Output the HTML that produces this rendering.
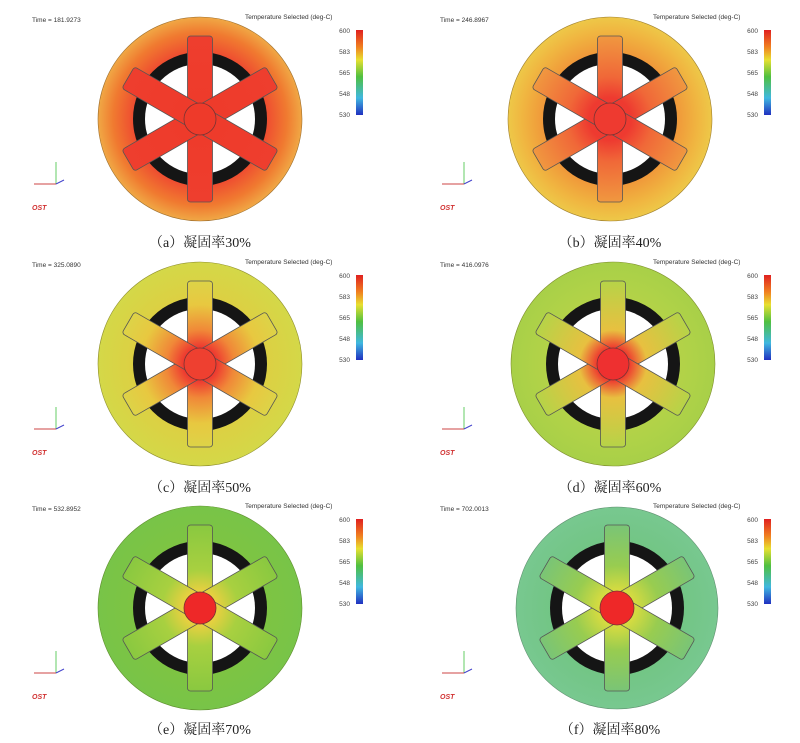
<!DOCTYPE html>
<html><head><meta charset="utf-8"><style>
body{margin:0;background:#fff;width:800px;height:743px;overflow:hidden;position:relative;font-family:"Liberation Sans",sans-serif}
.cap{position:absolute;font-family:"Liberation Serif","Noto Serif CJK SC",serif;font-size:14px;color:#222;width:300px;text-align:center}
svg{position:absolute;left:0;top:0}
</style></head><body>
<svg width="800" height="743" viewBox="0 0 800 743" font-family="Liberation Sans, sans-serif">
<defs>
<linearGradient id="cb" x1="0" y1="0" x2="0" y2="1">
<stop offset="0" stop-color="#e02020"/><stop offset="0.2" stop-color="#f08020"/><stop offset="0.35" stop-color="#e8e030"/><stop offset="0.55" stop-color="#50c040"/><stop offset="0.8" stop-color="#40b8e0"/><stop offset="1" stop-color="#2030c0"/></linearGradient>
<radialGradient id="wa" gradientUnits="userSpaceOnUse" cx="0" cy="0" r="102"><stop offset="0.6" stop-color="#ee4030"/><stop offset="0.85" stop-color="#f07a30"/><stop offset="1" stop-color="#f0a845"/></radialGradient>
<radialGradient id="sa" gradientUnits="userSpaceOnUse" cx="0" cy="0" r="85"><stop offset="0" stop-color="#ee3a2a"/><stop offset="1" stop-color="#ee3e2e"/></radialGradient>
<radialGradient id="wb" gradientUnits="userSpaceOnUse" cx="0" cy="0" r="102"><stop offset="0.6" stop-color="#f09038"/><stop offset="0.85" stop-color="#f0b440"/><stop offset="1" stop-color="#eec848"/></radialGradient>
<radialGradient id="sb" gradientUnits="userSpaceOnUse" cx="0" cy="0" r="85"><stop offset="0.25" stop-color="#ee3a30"/><stop offset="0.5" stop-color="#f06838"/><stop offset="1" stop-color="#f09a40"/></radialGradient>
<radialGradient id="wc" gradientUnits="userSpaceOnUse" cx="0" cy="0" r="102"><stop offset="0.5" stop-color="#e0cc40"/><stop offset="1" stop-color="#d4d848"/></radialGradient>
<radialGradient id="sc" gradientUnits="userSpaceOnUse" cx="0" cy="0" r="85"><stop offset="0.2" stop-color="#ee3a30"/><stop offset="0.4" stop-color="#f08838"/><stop offset="0.7" stop-color="#e8c840"/><stop offset="1" stop-color="#dcd448"/></radialGradient>
<radialGradient id="wd" gradientUnits="userSpaceOnUse" cx="0" cy="0" r="102"><stop offset="0.5" stop-color="#b8d448"/><stop offset="1" stop-color="#a8d048"/></radialGradient>
<radialGradient id="sd" gradientUnits="userSpaceOnUse" cx="0" cy="0" r="85"><stop offset="0.2" stop-color="#ee4030"/><stop offset="0.4" stop-color="#e8c040"/><stop offset="1" stop-color="#b4d448"/></radialGradient>
<radialGradient id="we" gradientUnits="userSpaceOnUse" cx="0" cy="0" r="102"><stop offset="0.5" stop-color="#80c440"/><stop offset="1" stop-color="#78c448"/></radialGradient>
<radialGradient id="se" gradientUnits="userSpaceOnUse" cx="0" cy="0" r="85"><stop offset="0.2" stop-color="#e8d040"/><stop offset="0.45" stop-color="#a8d040"/><stop offset="1" stop-color="#88c840"/></radialGradient>
<radialGradient id="wf" gradientUnits="userSpaceOnUse" cx="0" cy="0" r="102"><stop offset="0.5" stop-color="#70c480"/><stop offset="1" stop-color="#78c890"/></radialGradient>
<radialGradient id="sf" gradientUnits="userSpaceOnUse" cx="0" cy="0" r="85"><stop offset="0.2" stop-color="#d8dc40"/><stop offset="0.5" stop-color="#98cc50"/><stop offset="1" stop-color="#78c478"/></radialGradient>
<g id="sp" stroke="#555" stroke-width="0.8">
<rect x="-12.5" y="-83" width="25" height="166" rx="3"/>
<rect x="-12.5" y="-83" width="25" height="166" rx="3" transform="rotate(60)"/>
<rect x="-12.5" y="-83" width="25" height="166" rx="3" transform="rotate(120)"/>
</g>
<g id="ring"><circle r="67" fill="#151515"/><circle r="55" fill="#fff"/></g>
<g id="cbar">
<text x="245" y="19" font-size="6.5" fill="#333">Temperature Selected (deg-C)</text>
<rect x="356" y="30" width="7" height="85" fill="url(#cb)"/>
<g font-size="6.5" fill="#444" text-anchor="end"><text x="350" y="33">600</text><text x="350" y="54">583</text><text x="350" y="75">565</text><text x="350" y="96">548</text><text x="350" y="117">530</text></g>
<g stroke-width="1"><line x1="56" y1="162" x2="56" y2="184" stroke="#6c6"/><line x1="34" y1="184" x2="56" y2="184" stroke="#c44"/><line x1="56" y1="184" x2="64" y2="180" stroke="#44c"/></g>
<text x="32" y="210" font-size="7" font-weight="bold" font-style="italic" fill="#d03030">OST</text>
</g>
</defs>

<g><use href="#cbar"/><text x="32" y="22" font-size="6.5" fill="#333">Time = 181.9273</text>
<g transform="translate(200,119)"><circle r="102" fill="url(#wa)" stroke="#a07030" stroke-width="0.6"/><use href="#ring"/><use href="#sp" fill="url(#sa)"/><circle r="16" fill="#ee3a2a" stroke="#733" stroke-width="0.8"/></g></g>
<g transform="translate(408,0)"><use href="#cbar"/><text x="32" y="22" font-size="6.5" fill="#333">Time = 246.8967</text>
<g transform="translate(202,119)"><circle r="102" fill="url(#wb)" stroke="#a08030" stroke-width="0.6"/><use href="#ring"/><use href="#sp" fill="url(#sb)"/><circle r="16" fill="#ee3a30" stroke="#733" stroke-width="0.8"/></g></g>
<g transform="translate(0,245)"><use href="#cbar"/><text x="32" y="22" font-size="6.5" fill="#333">Time = 325.0890</text>
<g transform="translate(200,119)"><circle r="102" fill="url(#wc)" stroke="#909030" stroke-width="0.6"/><use href="#ring"/><use href="#sp" fill="url(#sc)"/><circle r="16" fill="#ee4030" stroke="#733" stroke-width="0.8"/></g></g>
<g transform="translate(408,245)"><use href="#cbar"/><text x="32" y="22" font-size="6.5" fill="#333">Time = 416.0976</text>
<g transform="translate(205,119)"><circle r="102" fill="url(#wd)" stroke="#809030" stroke-width="0.6"/><use href="#ring"/><use href="#sp" fill="url(#sd)"/><circle r="16" fill="#ee3030" stroke="#733" stroke-width="0.8"/></g></g>
<g transform="translate(0,489)"><use href="#cbar"/><text x="32" y="22" font-size="6.5" fill="#333">Time = 532.8952</text>
<g transform="translate(200,119)"><circle r="102" fill="url(#we)" stroke="#609030" stroke-width="0.6"/><use href="#ring"/><use href="#sp" fill="url(#se)"/><circle r="16" fill="#ee2828" stroke="#733" stroke-width="0.8"/></g></g>
<g transform="translate(408,489)"><use href="#cbar"/><text x="32" y="22" font-size="6.5" fill="#333">Time = 702.0013</text>
<g transform="translate(209,119)"><circle r="101" fill="url(#wf)" stroke="#609070" stroke-width="0.6"/><use href="#ring"/><use href="#sp" fill="url(#sf)"/><circle r="17" fill="#ee2828" stroke="#733" stroke-width="0.8"/></g></g>
</svg>
<div class="cap" style="left:50px;top:232px">（a）凝固率30%</div>
<div class="cap" style="left:460px;top:232px">（b）凝固率40%</div>
<div class="cap" style="left:50px;top:477px">（c）凝固率50%</div>
<div class="cap" style="left:460px;top:477px">（d）凝固率60%</div>
<div class="cap" style="left:50px;top:719px">（e）凝固率70%</div>
<div class="cap" style="left:460px;top:719px">（f）凝固率80%</div>
</body></html>
